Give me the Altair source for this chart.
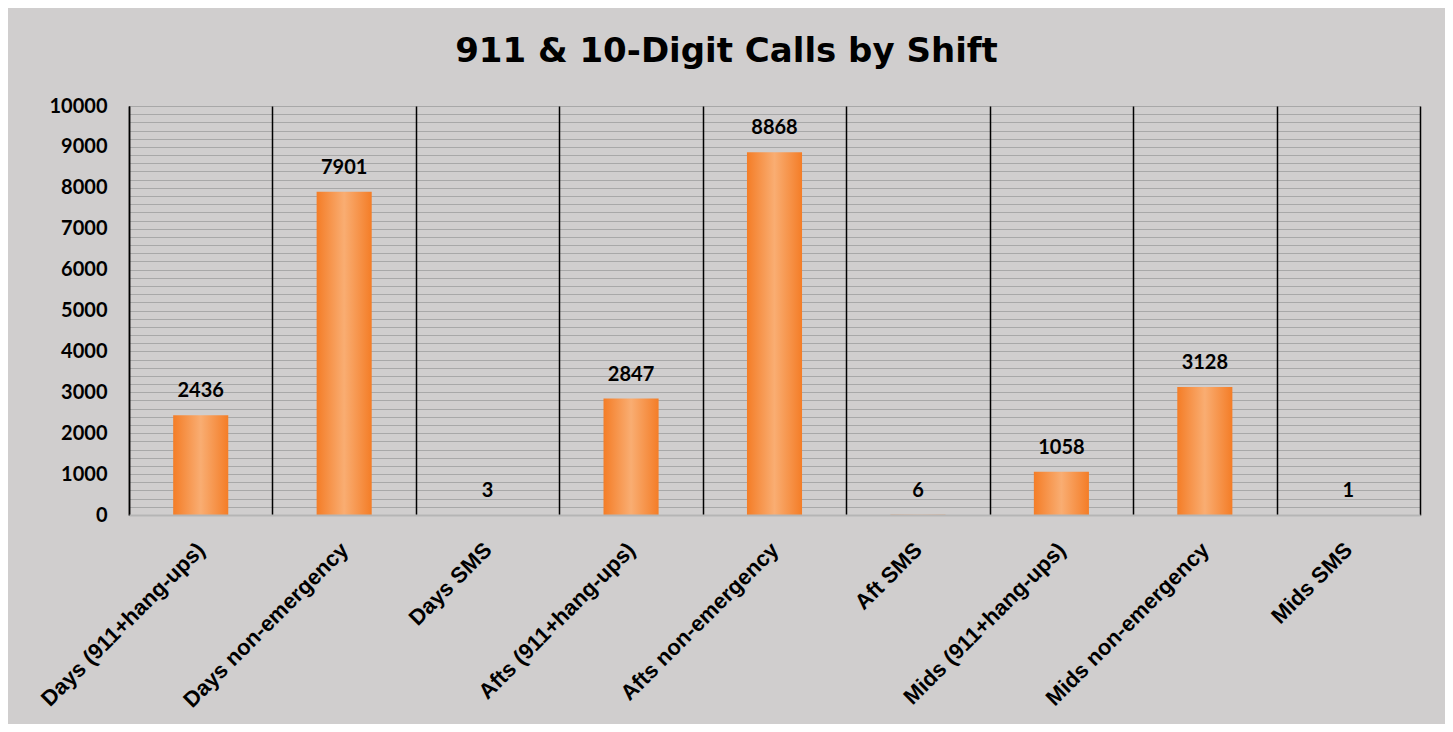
import altair as alt
import pandas as pd

categories = [
    "Days (911+hang-ups)", "Days non-emergency", "Days SMS",
    "Afts (911+hang-ups)", "Afts non-emergency", "Aft SMS",
    "Mids (911+hang-ups)", "Mids non-emergency", "Mids SMS",
]
values = [2436, 7901, 3, 2847, 8868, 6, 1058, 3128, 1]
y_ticks = list(range(0, 10001, 200))

df = pd.DataFrame({"category": categories, "calls": values})

BG = "#d0cece"

x_enc = alt.X(
    "category:N", sort=categories, title=None,
    scale=alt.Scale(paddingInner=0, paddingOuter=0),
    axis=alt.Axis(
        labelAngle=-45, labelAlign="right", labelBaseline="middle",
        labelFont="Liberation Sans", labelFontWeight="bold", labelFontSize=22,
        labelColor="black", labelPadding=31, labelLimit=400,
        ticks=False, grid=True, tickBand="extent",
        gridColor="black", gridWidth=1.5,
        domainColor="#b5b5b5", domainWidth=2, zindex=1,
    ),
)
y_enc = alt.Y(
    "calls:Q", title=None,
    scale=alt.Scale(domain=[0, 10000], nice=False),
    axis=alt.Axis(
        values=y_ticks,
        labelExpr="datum.value % 1000 === 0 ? datum.label : ''",
        labelOverlap=False,
        format="d",
        labelFont="Lato", labelFontWeight="bold", labelFontSize=20,
        labelColor="black", labelPadding=22,
        ticks=False, grid=True, gridColor="#a8a8a8", gridWidth=1,
        domainColor="black", domainWidth=1.5,
    ),
)

bar_fill = alt.Gradient(
    gradient="linear", x1=0, x2=1, y1=0, y2=0,
    stops=[
        alt.GradientStop(color="#f47d27", offset=0),
        alt.GradientStop(color="#f9ad72", offset=0.5),
        alt.GradientStop(color="#f47d27", offset=1),
    ],
)

base = alt.Chart(df).encode(x=x_enc, y=y_enc)

bars = base.mark_bar(fill=bar_fill, width=alt.RelativeBandSize(0.384))

labels = base.mark_text(
    font="Lato", fontWeight="bold", fontSize=20, color="black",
    baseline="alphabetic", dy=-18,
).encode(text=alt.Text("calls:Q", format="d"))

chart = alt.layer(bars, labels).properties(
    width=1291, height=409,
    autosize=alt.AutoSizeParams(type="none"),
    padding={"left": 121, "top": 98, "right": 25, "bottom": 209},
    background=BG,
    title=alt.TitleParams(
        "911 & 10-Digit Calls by Shift",
        font="DejaVu Sans", fontWeight="bold", fontSize=34, color="black",
        anchor="middle", frame="group", dx=-48, offset=27,
    ),
).configure_view(stroke=None, fill=BG)

chart.save("out.html", embed_options={"renderer": "svg", "actions": False})
